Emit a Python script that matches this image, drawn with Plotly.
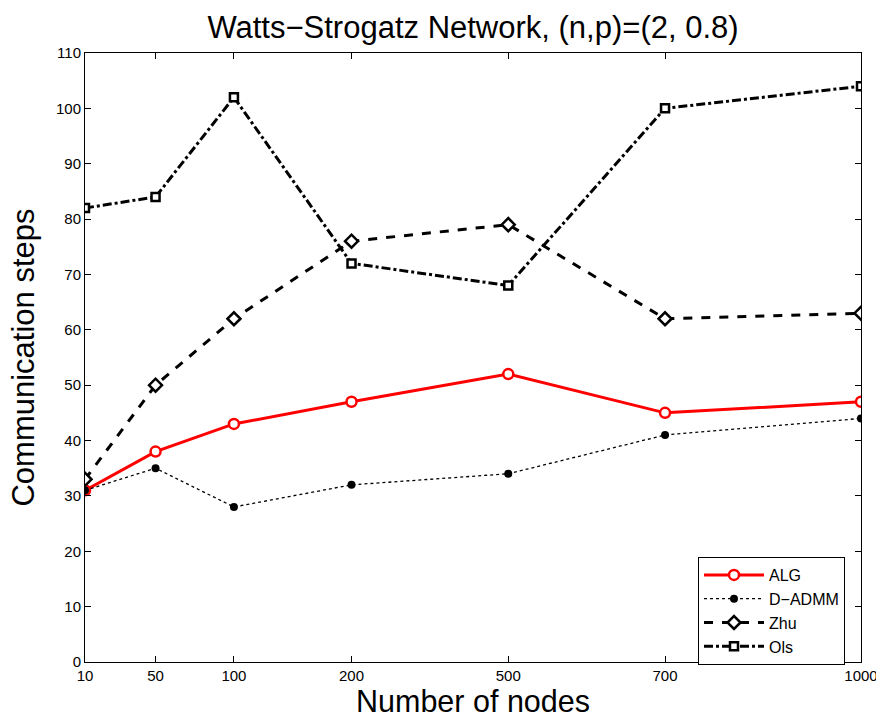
import plotly.graph_objects as go

node_labels = ["10", "50", "100", "200", "500", "700", "1000"]
x_pos = [1, 10, 20, 35, 55, 75, 100]
alg = [31, 38, 43, 47, 52, 45, 47]
dadmm = [31, 35, 28, 32, 34, 41, 44]
zhu = [33, 50, 62, 76, 79, 62, 63]
ols = [82, 84, 102, 72, 68, 100, 104]
y_ticks = list(range(0, 111, 10))

fig = go.Figure()
fig.add_trace(go.Scatter(x=x_pos, y=alg, name="ALG", mode="lines+markers",
                         line=dict(color="red", width=3),
                         marker=dict(symbol="circle", size=10, color="white",
                                     line=dict(color="red", width=2.5))))
fig.add_trace(go.Scatter(x=x_pos, y=dadmm, name="D\u2212ADMM", mode="lines+markers",
                         line=dict(color="black", width=1.3, dash="dot"),
                         marker=dict(symbol="circle", size=8, color="black")))
fig.add_trace(go.Scatter(x=x_pos, y=zhu, name="Zhu", mode="lines+markers",
                         line=dict(color="black", width=3, dash="dash"),
                         marker=dict(symbol="diamond", size=10, color="white",
                                     line=dict(color="black", width=2.5))))
fig.add_trace(go.Scatter(x=x_pos, y=ols, name="Ols", mode="lines+markers",
                         line=dict(color="black", width=3, dash="dashdot"),
                         marker=dict(symbol="square", size=8, color="white",
                                     line=dict(color="black", width=2.5))))

font_family = "Liberation Sans, Arial, sans-serif"
fig.update_layout(
    width=876, height=718,
    margin=dict(l=85, r=15, t=53, b=56, autoexpand=False),
    paper_bgcolor="white", plot_bgcolor="white",
    font=dict(family=font_family, color="black"),
    title=dict(text="Watts\u2212Strogatz Network, (n,p)=(2, 0.8)",
               xref="paper", x=0.5, xanchor="center", y=1 - 27 / 718, yanchor="middle",
               font=dict(size=31, color="black")),
    showlegend=True,
    legend=dict(x=(698 - 85) / 776, y=(662 - 557) / 609, xanchor="left", yanchor="top",
                bgcolor="white", bordercolor="black", borderwidth=1,
                font=dict(size=16, color="black"), itemwidth=60,
                entrywidth=80, entrywidthmode="pixels",
                tracegroupgap=0),
)
fig.update_xaxes(range=[1, 100], tickmode="array", tickvals=x_pos, ticktext=node_labels,
                 ticks="inside", ticklen=6, tickcolor="black", showline=True,
                 linecolor="black", linewidth=1, mirror="ticks", showgrid=False,
                 zeroline=False, tickfont=dict(size=15, color="black"),
                 ticklabeloverflow="allow", automargin=False,
                 title=dict(text="Number of nodes", font=dict(size=30.5, color="black"),
                            standoff=4))
fig.update_yaxes(range=[0, 110], tickmode="array", tickvals=y_ticks,
                 ticks="inside", ticklen=6, tickcolor="black", showline=True,
                 linecolor="black", linewidth=1, mirror="ticks", showgrid=False,
                 zeroline=False, tickfont=dict(size=15, color="black"),
                 automargin=False,
                 title=dict(text="Communication steps", font=dict(size=31, color="black"),
                            standoff=12))

fig.write_html("out.html", config={"displayModeBar": False},
               post_script="document.body.style.margin='0';document.body.style.overflow='hidden';")
